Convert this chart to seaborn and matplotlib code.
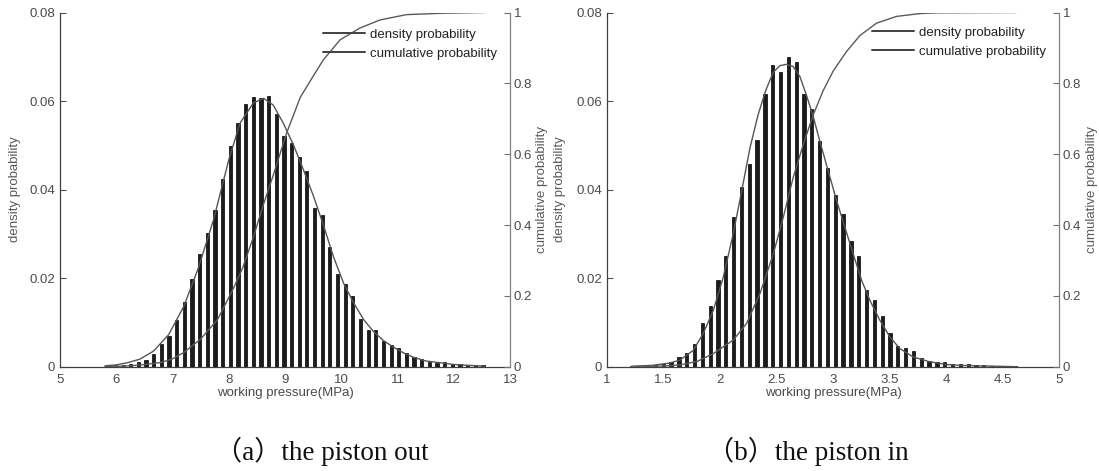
import numpy as np
import pandas as pd
import matplotlib
matplotlib.use("Agg")
import matplotlib.pyplot as plt
from matplotlib.lines import Line2D
import seaborn as sns

sns.set_theme(style="white")
plt.rcParams['font.family'] = ['Liberation Sans', 'DejaVu Sans']

# ---------------- data: (a) the piston out ----------------
out_bin_first, out_bin_last, out_nbins = 5.85, 12.52, 50
out_density = [0.0003, 0.0003, 0.0004, 0.0006, 0.0010,
               0.0016, 0.0029, 0.0051, 0.0070, 0.0106, 0.0147, 0.0198, 0.0255, 0.0302, 0.0354,
               0.0423, 0.0499, 0.0550, 0.0593, 0.0610, 0.0608, 0.0611, 0.0571, 0.0521, 0.0506,
               0.0473, 0.0442, 0.0358, 0.0343, 0.0271, 0.0209, 0.0187, 0.0159, 0.0108, 0.0083,
               0.0082, 0.0057, 0.0050, 0.0042, 0.0031, 0.0021,
               0.0017, 0.0011, 0.0008, 0.0010, 0.0006, 0.0006, 0.0004, 0.0003, 0.0003]
out_pdf_x = [5.80, 6.00, 6.20, 6.42, 6.66, 6.93, 7.20, 7.46, 7.73, 8.00, 8.20, 8.44, 8.62, 8.79,
             8.97, 9.15, 9.33, 9.51, 9.69, 9.86, 10.04, 10.22, 10.40, 10.57, 10.75, 10.93, 11.11,
             11.29, 11.50, 12.00, 12.55]
out_pdf_y = [0.0002, 0.0004, 0.0009, 0.0017, 0.0035, 0.0072, 0.0136, 0.0223, 0.0332, 0.0467,
             0.0550, 0.0596, 0.0606, 0.0591, 0.0550, 0.0501, 0.0444, 0.0384, 0.0317, 0.0249,
             0.0189, 0.0144, 0.0106, 0.0080, 0.0059, 0.0044, 0.0031, 0.0021, 0.0013, 0.0005, 0.0001]
out_cdf_x = [5.80, 6.20, 6.50, 6.80, 7.00, 7.20, 7.50, 7.80, 8.08, 8.25, 8.44, 8.60, 8.79, 9.03,
             9.27, 9.50, 9.68, 9.98, 10.33, 10.69, 11.16, 11.81, 12.55]
out_cdf_y = [0.000, 0.002, 0.006, 0.012, 0.022, 0.040, 0.078, 0.133, 0.220, 0.280, 0.367, 0.450,
             0.540, 0.660, 0.760, 0.820, 0.866, 0.923, 0.956, 0.979, 0.994, 0.998, 1.000]

# ---------------- data: (b) the piston in ----------------
in_bin_first, in_bin_last, in_nbins = 1.224, 4.609, 50
in_density = [0.0002, 0.0002, 0.0002, 0.0003, 0.0006, 0.0011, 0.0021,
              0.0030, 0.0052, 0.0099, 0.0136, 0.0196, 0.0251, 0.0337, 0.0407, 0.0457, 0.0512,
              0.0616, 0.0682, 0.0665, 0.0699, 0.0688, 0.0616, 0.0581, 0.0509, 0.0449, 0.0388,
              0.0345, 0.0285, 0.0249, 0.0174, 0.0151, 0.0114, 0.0077, 0.0047, 0.0043, 0.0035,
              0.0020, 0.0013, 0.0011, 0.0010, 0.0007,
              0.0006, 0.0005, 0.0004, 0.0003, 0.0002, 0.0002, 0.0001, 0.0001]
in_pdf_x = [1.22, 1.40, 1.55, 1.648, 1.765, 1.853, 1.942, 2.030, 2.118, 2.193, 2.266, 2.339,
            2.407, 2.472, 2.531, 2.590, 2.648, 2.708, 2.767, 2.825, 2.884, 2.958, 3.032, 3.105,
            3.178, 3.253, 3.326, 3.414, 3.503, 3.591, 3.709, 3.856, 4.003, 4.121, 4.62]
in_pdf_y = [0.0001, 0.0003, 0.0008, 0.0015, 0.0037, 0.0075, 0.0127, 0.0202, 0.0300, 0.0397,
            0.0494, 0.0570, 0.0625, 0.0665, 0.0680, 0.0683, 0.0678, 0.0655, 0.0612, 0.0565,
            0.0509, 0.0442, 0.0375, 0.0315, 0.0255, 0.0195, 0.0150, 0.0105, 0.0067, 0.0041,
            0.0022, 0.0011, 0.0005, 0.0003, 0.0000]
in_cdf_x = [1.22, 1.50, 1.648, 1.80, 1.942, 2.118, 2.236, 2.354, 2.472, 2.560, 2.648, 2.737,
            2.825, 2.914, 3.002, 3.120, 3.238, 3.385, 3.562, 3.768, 3.910, 4.62]
in_cdf_y = [0.000, 0.002, 0.005, 0.015, 0.037, 0.075, 0.122, 0.206, 0.318, 0.421, 0.534, 0.627,
            0.711, 0.780, 0.835, 0.890, 0.935, 0.970, 0.989, 0.997, 0.999, 1.000]

# tick labels
out_xticks = [5, 6, 7, 8, 9, 10, 11, 12, 13]
in_xticks = [1, 1.5, 2, 2.5, 3, 3.5, 4, 4.5, 5]
density_ticks = [0, 0.02, 0.04, 0.06, 0.08]
cum_ticks = [0, 0.2, 0.4, 0.6, 0.8, 1]
captions = ["（a）the piston out", "（b）the piston in"]
legend_labels = ["density probability", "cumulative probability"]

TXT = '#4a4a4a'
FS = 9.5
W, H = 1099, 471
fig = plt.figure(figsize=(W / 100, H / 100), dpi=100)
fig.patch.set_facecolor('white')


def fmt(v):
    return ('%g' % v)


def panel(left_px, width_px, bins, density, pdfx, pdfy, cdfx, cdfy, xlim, xticks,
          dens_lab_x, cum_lab_x, leg_x, leg_y):
    bottom_px, top_px = 366.7, 12.5
    ax = fig.add_axes([left_px / W, 1 - bottom_px / H, width_px / W, (bottom_px - top_px) / H])
    centers = np.linspace(*bins)
    df = pd.DataFrame({'x': centers, 'y': density})
    sns.barplot(data=df, x='x', y='y', native_scale=True, width=0.42, color='#1c1c1c',
                saturation=1, edgecolor='black', linewidth=0.5, errorbar=None, ax=ax)
    sns.lineplot(x=pdfx, y=pdfy, ax=ax, color='#555555', linewidth=1.0, legend=False)
    ax.set_xlim(*xlim)
    ax.set_ylim(0, 0.08)
    ax.set_xticks(xticks)
    ax.set_xticklabels([fmt(v) for v in xticks])
    ax.set_yticks(density_ticks)
    ax.set_yticklabels([fmt(v) for v in density_ticks])
    ax.set_xlabel('working pressure(MPa)', fontsize=FS, color=TXT)
    ax.set_ylabel('density probability', fontsize=FS, color='#5a5a5a')
    ax.xaxis.set_label_coords(0.5, -0.056)
    ax.yaxis.set_label_coords(dens_lab_x, 0.5)
    ax.tick_params(direction='in', length=4, width=0.8, colors='#505050', labelcolor=TXT,
                   labelsize=FS, pad=3.5, top=False, right=False)
    ax.tick_params(axis='x', pad=5)
    for s in ['top', 'right']:
        ax.spines[s].set_visible(False)
    for s in ['left', 'bottom']:
        ax.spines[s].set_color('#404040')
        ax.spines[s].set_linewidth(0.9)

    ax2 = ax.twinx()
    sns.lineplot(x=cdfx, y=cdfy, ax=ax2, color='#5a5a5a', linewidth=1.0, legend=False)
    ax2.set_ylim(0, 1)
    ax2.set_xlim(*xlim)
    ax2.set_yticks(cum_ticks)
    ax2.set_yticklabels([fmt(v) for v in cum_ticks])
    ax2.set_ylabel('cumulative probability', fontsize=FS, color='#5a5a5a')
    ax2.yaxis.set_label_coords(cum_lab_x, 0.5)
    ax2.tick_params(axis='y', direction='in', length=4, width=0.8, colors='#707070',
                    labelcolor=TXT, labelsize=FS, pad=2.5)
    for s in ['top', 'left', 'bottom']:
        ax2.spines[s].set_visible(False)
    ax2.spines['right'].set_color('#808080')
    ax2.spines['right'].set_linewidth(0.9)

    handles = [Line2D([], [], color='#404040', lw=1.4), Line2D([], [], color='#404040', lw=1.4)]
    ax2.legend(handles, legend_labels, loc='upper left', bbox_to_anchor=(leg_x, leg_y),
               frameon=False, fontsize=FS, handlelength=3.2, handletextpad=0.38,
               labelspacing=0.5, borderpad=0, borderaxespad=0, labelcolor='#222222')
    return ax, ax2


panel(60, 450, (out_bin_first, out_bin_last, out_nbins), out_density, out_pdf_x, out_pdf_y,
      out_cdf_x, out_cdf_y, (5, 13), out_xticks, -0.087, 1.058, 0.585, 0.955)
panel(606.7, 452.6, (in_bin_first, in_bin_last, in_nbins), in_density, in_pdf_x, in_pdf_y,
      in_cdf_x, in_cdf_y, (1, 5), in_xticks, -0.09, 1.059, 0.586, 0.960)

cap_font = ['Liberation Serif', 'Noto Sans CJK SC']
fig.text(322 / W, 1 - 451 / H, captions[0], ha='center', va='center', fontsize=19.5,
         family=cap_font, color='#111111')
fig.text(808 / W, 1 - 451 / H, captions[1], ha='center', va='center', fontsize=19.5,
         family=cap_font, color='#111111')

fig.savefig('out.png', dpi=100, facecolor='white')
